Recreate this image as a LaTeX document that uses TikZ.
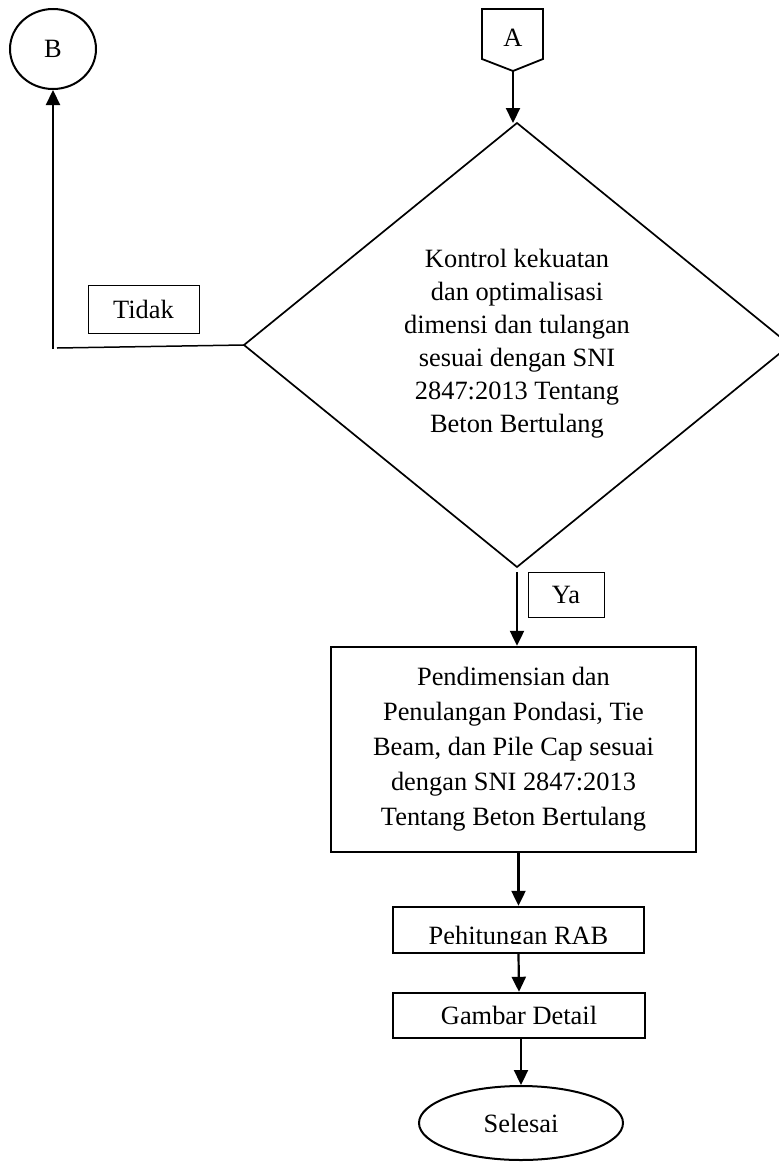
\documentclass[tikz,border=0pt]{standalone}
\usepackage{fontspec}
\setmainfont{Liberation Serif}
\usetikzlibrary{arrows.meta,shapes.geometric}
\begin{document}
\begin{tikzpicture}[x=1pt,y=-1pt,
  every node/.style={font=\fontsize{26.4}{33}\selectfont, inner sep=0pt, align=center},
  thickbox/.style={draw, line width=2.4pt, rectangle},
  thinbox/.style={draw, line width=0.9pt, rectangle},
  oval/.style={draw, ellipse, line width=2pt},
  arr/.style={line width=2.2pt, -{Triangle[length=15pt,width=14pt]}},
]
\useasboundingbox (0,0) rectangle (779,1162);
\clip (0,0) rectangle (779,1162);

% B connector
\node[oval, minimum width=86pt, minimum height=80pt] (B) at (53,49) {B};

% A off-page connector
\coordinate (Abot) at (513,71);
\draw[line width=1.8pt] (482,9) -- (543,9) -- (543,59) -- (Abot) -- (482,59) -- cycle;
\node (A) at (513,38) {A};

% decision diamond
\coordinate (Dt) at (517,123);
\coordinate (Dr) at (790,345);
\coordinate (Db) at (517,567);
\coordinate (Dl) at (244,345);
\draw[line width=1.7pt] (Dt) -- (Dr) -- (Db) -- (Dl) -- cycle;
\node (D) at (517,344) {Kontrol kekuatan\\dan optimalisasi\\dimensi dan tulangan\\sesuai dengan SNI\\2847:2013 Tentang\\Beton Bertulang};

\draw[arr] (Abot) -- (Abot |- Dt);

% Tidak branch
\node[thinbox, minimum width=111pt, minimum height=48pt] (T) at (143.5,309) {Tidak};
\coordinate (hend) at (57,348);
\coordinate (corner) at (53,349);
\draw[line width=1.5pt] (Dl) -- (hend);
\draw[arr] (corner) -- (B.south);

% Ya branch
\node[thinbox, minimum width=76pt, minimum height=45pt] (Y) at (566,594.5) {Ya};

% main box
\node[thickbox, minimum width=365pt, minimum height=205pt, font=\fontsize{26.4}{35}\selectfont] (M) at (513.5,749.5)
  {Pendimensian dan\\Penulangan Pondasi, Tie\\Beam, dan Pile Cap sesuai\\dengan SNI 2847:2013\\Tentang Beton Bertulang};
\draw[arr, shorten <=5pt] (Db) -- (Db |- M.north);

% RAB box (text clipped at bottom as in the reference)
\node[thickbox, minimum width=251pt, minimum height=46pt] (P) at (518.5,930) {};
\begin{scope}
  \clip (395,909) rectangle (643,943);
  \node[anchor=base] (Pt) at (518.5,944) {Pehitungan RAB};
\end{scope}
\draw[arr] (P.north |- M.south) -- (P.north);

% Gambar box
\node[thickbox, minimum width=252pt, minimum height=45pt] (G) at (519,1015.5) {Gambar Detail};
\draw[arr] (P.south) -- (G.north);

% end
\node[oval, minimum width=204pt, minimum height=74pt] (S) at (521,1123) {Selesai};
\draw[arr] (S.north |- G.south) -- (S.north);
\end{tikzpicture}
\end{document}
